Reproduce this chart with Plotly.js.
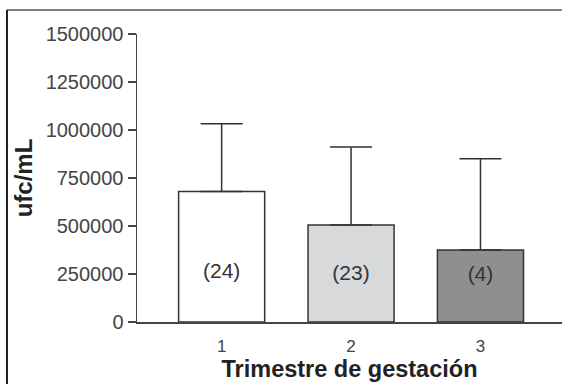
<!DOCTYPE html>
<html>
<head>
<meta charset="utf-8">
<script src="https://cdn.plot.ly/plotly-3.0.1.min.js"></script>
<style>html,body{margin:0;padding:0;background:#fff;}#chart{width:562px;height:384px;}</style>
</head>
<body>
<div id="chart"></div>
<script>
// Data
var trimesters = [1, 2, 3];
var tickLabels = ['1', '2', '3'];
var meanValues = [680000, 505000, 375000];
var sdUpper = [352000, 407000, 475000];
var sampleLabels = ['(24)', '(23)', '(4)'];
var sampleLabelY = [255000, 245000, 240000];
var barColors = ['#ffffff', '#d8d9db', '#8f8f8f'];
var yTickVals = [0, 250000, 500000, 750000, 1000000, 1250000, 1500000];
var yTickText = ['0', '250000', '500000', '750000', '1000000', '1250000', '1500000'];

var font = 'Liberation Sans, Arial, sans-serif';

var bars = {
  type: 'bar',
  x: trimesters,
  y: meanValues,
  width: 0.665,
  marker: {color: barColors, line: {color: '#333333', width: 1.5}},
  error_y: {type: 'data', symmetric: false, array: sdUpper, arrayminus: [0, 0, 0],
            color: '#333333', thickness: 1.5, width: 21},
  hoverinfo: 'none',
  showlegend: false
};

var labels = {
  type: 'scatter',
  mode: 'text',
  x: trimesters,
  y: sampleLabelY,
  text: sampleLabels,
  textfont: {family: font, size: 21, color: '#333333'},
  hoverinfo: 'none',
  showlegend: false
};

var layout = {
  width: 562, height: 384,
  margin: {l: 137, r: 0, t: 34, b: 62, pad: 0},
  paper_bgcolor: '#ffffff',
  plot_bgcolor: '#ffffff',
  font: {family: font, color: '#444444'},
  xaxis: {
    range: [0.346, 3.63],
    tickvals: trimesters,
    ticktext: tickLabels,
    ticks: '',
    ticklabelstandoff: 8,
    showgrid: false,
    zeroline: false,
    showline: true,
    linecolor: '#444444',
    linewidth: 1.5,
    tickfont: {family: font, size: 17, color: '#444444'},
    title: {text: 'Trimestre de gestación', font: {family: font, size: 23.5, color: '#222222', weight: 'bold'}, standoff: 2}
  },
  yaxis: {
    range: [0, 1500000],
    tickvals: yTickVals,
    ticktext: yTickText,
    ticks: 'outside',
    ticklen: 8,
    tickwidth: 1.5,
    tickcolor: '#444444',
    showgrid: false,
    zeroline: false,
    showline: true,
    linecolor: '#444444',
    linewidth: 1.5,
    tickfont: {family: font, size: 20, color: '#444444'},
    title: {text: 'ufc/mL', font: {family: font, size: 24, color: '#222222', weight: 'bold'}, standoff: 6}
  },
  shapes: [
    {type: 'line', xref: 'paper', yref: 'paper', x0: -0.3059, x1: 1, y0: 1.0833, y1: 1.0833,
     line: {color: '#555555', width: 1.5}},
    {type: 'line', xref: 'paper', yref: 'paper', x0: -0.3059, x1: -0.3059, y0: 1.0833, y1: -0.25,
     line: {color: '#222222', width: 2}}
  ]
};

Plotly.newPlot('chart', [bars, labels], layout, {displayModeBar: false, staticPlot: true});
</script>
</body>
</html>
